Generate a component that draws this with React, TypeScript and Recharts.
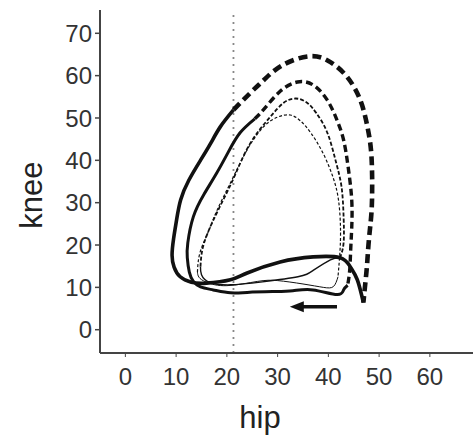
import { ScatterChart, Scatter, XAxis, YAxis, ReferenceLine } from 'recharts'

// hip / knee angles in degrees, as [hip, knee]
const loopASolid = [
  [46.9, 6.4], [45.7, 11.8], [44.3, 14.9], [42.3, 17], [37, 17.2], [30.5, 16],
  [24, 13.4], [20.7, 11.8], [16, 11], [13, 11.2], [10.8, 12.5], [9.6, 14.8],
  [9.2, 17.6], [9.5, 21.5], [10.1, 26], [10.9, 30.7], [12.5, 35.3], [14.8, 40],
  [16.8, 44], [18.7, 47.9], [21.3, 51.9],
]
const loopADashed = [
  [21.3, 51.9], [24.6, 55.9], [27.4, 59.1], [31, 62.5], [36.4, 64.6], [40.4, 63.2],
  [43.7, 59.7], [46.3, 54.2], [47.7, 47.9], [48.5, 40.8], [48.6, 30.7], [48.3, 25],
  [47.9, 20], [47.6, 15], [47.2, 10], [46.9, 6.4],
]
const loopBSolid = [
  [43.8, 10.5], [43, 9.4], [41.7, 8.3], [37, 9.4], [33, 9.2], [29, 9], [24, 8.8],
  [20.7, 8.7], [17.3, 9.4], [14.8, 10.1], [13.4, 11.4], [12.6, 13.6], [12.2, 17],
  [12.3, 20.5], [13.4, 26.7], [15.5, 32], [18, 37], [20.3, 42], [22.6, 46.5], [25.5, 49.8],
]
const loopBDashed = [
  [25.5, 49.8], [27.4, 52.2], [30.5, 56.3], [33.9, 58.5], [37, 57.8], [39.8, 54.2],
  [41.7, 49.5], [43, 44.8], [43.9, 38.4], [44.6, 30.7], [44.6, 24], [44.4, 18.9],
  [44.2, 14], [43.8, 10.5],
]
const loopCSolid = [
  [42.3, 17], [40.4, 16.5], [37, 14], [34, 12.5], [27, 11.3], [20.7, 10.6],
  [16.6, 11.2], [15, 13], [14.8, 14.9],
]
const loopCDashed = [
  [14.8, 14.9], [15.3, 19.6], [17, 25], [19.3, 30.7], [21.6, 36.5], [24.6, 44],
  [28.5, 50.2], [31.2, 53.6], [33.6, 54.6], [35.8, 53.6], [37.6, 51.2], [39.8, 46.5],
  [41.5, 39.6], [42.6, 33.7], [43, 26.7], [43, 20.5], [42.3, 17],
]
const loopDSolid = [
  [41.9, 12.5], [41, 10.2], [39, 10], [35, 10.8], [30, 11.6], [26, 11.4],
  [20, 10.4], [16, 11.2], [14.5, 12.4], [14.2, 13.6],
]
const loopDDashed = [
  [14.2, 13.6], [14.7, 18.2], [16.3, 23], [18.1, 28.3], [21, 35.4], [24, 42.5],
  [27.2, 47.9], [30, 50.2], [32.5, 50.7], [34.6, 49.2], [36.6, 46.4], [38.9, 41.8],
  [40.8, 36.4], [42, 30.6], [42.4, 23], [42.2, 17], [41.9, 12.5],
]
const arrowShaft = [[33.6, 5.4], [41.7, 5.4]]
const arrowTip = [[32.4, 5.4]]

const xTicks = [0, 10, 20, 30, 40, 50, 60]
const yTicks = [0, 10, 20, 30, 40, 50, 60, 70]
const toeOffGuide = 21.3

const pts = (arr: number[][]) => arr.map(([hip, knee]) => ({ hip, knee }))

const INK = '#111'
const FONT = 'Liberation Sans, Arial, sans-serif'
const noDot = () => <g />

const series = [
  { name: 'aSolid', data: loopASolid, width: 3.6, dash: undefined },
  { name: 'aDash', data: loopADashed, width: 4.6, dash: '9 5' },
  { name: 'bSolid', data: loopBSolid, width: 3, dash: undefined },
  { name: 'bDash', data: loopBDashed, width: 3.4, dash: '7 4' },
  { name: 'cSolid', data: loopCSolid, width: 1.4, dash: undefined },
  { name: 'cDash', data: loopCDashed, width: 1.8, dash: '4 2' },
  { name: 'dSolid', data: loopDSolid, width: 1, dash: undefined },
  { name: 'dDash', data: loopDDashed, width: 1.2, dash: '3 2' },
]

function ArrowHead(props: any) {
  const { cx, cy } = props
  return <polygon points={`${cx},${cy} ${cx + 14},${cy - 5.5} ${cx + 14},${cy + 5.5}`} fill={INK} />
}

export default function App() {
  const tickStyle = { fill: '#333', fontSize: 24, fontFamily: FONT }
  return (
    <div style={{ position: 'absolute', left: 0, top: 0, width: 475, height: 439, background: '#fff' }}>
      <ScatterChart width={475} height={439} margin={{ top: 10, right: 2, bottom: 0, left: 0 }}>
        <XAxis
          type="number"
          dataKey="hip"
          domain={[-5, 68.5]}
          ticks={xTicks}
          height={86}
          tickSize={4}
          tickMargin={11}
          tick={tickStyle}
          axisLine={{ stroke: '#444', strokeWidth: 2 }}
          tickLine={{ stroke: '#444' }}
          allowDataOverflow
        />
        <YAxis
          type="number"
          dataKey="knee"
          domain={[-5.5, 75.5]}
          ticks={yTicks}
          width={100}
          tickSize={5}
          tickMargin={3}
          tick={tickStyle}
          axisLine={{ stroke: '#444', strokeWidth: 2 }}
          tickLine={{ stroke: '#444', strokeWidth: 1.5 }}
          allowDataOverflow
        />
        <ReferenceLine x={toeOffGuide} stroke="#888" strokeWidth={1.8} strokeDasharray="2 5" />
        {series.map(s => (
          <Scatter
            key={s.name}
            data={pts(s.data)}
            line={{ stroke: INK, strokeWidth: s.width, strokeDasharray: s.dash }}
            lineType="joint"
            lineJointType="natural"
            shape={noDot}
            isAnimationActive={false}
          />
        ))}
        <Scatter
          data={pts(arrowShaft)}
          line={{ stroke: INK, strokeWidth: 3.5 }}
          lineType="joint"
          shape={noDot}
          isAnimationActive={false}
        />
        <Scatter data={pts(arrowTip)} shape={ArrowHead} isAnimationActive={false} />
      </ScatterChart>
      <svg width={475} height={439} style={{ position: 'absolute', left: 0, top: 0, pointerEvents: 'none' }}>
        <text
          x={42}
          y={195}
          transform="rotate(-90 42 195)"
          textAnchor="middle"
          fontSize={31}
          fontFamily={FONT}
          fill="#222"
        >
          knee
        </text>
        <text x={260} y={428} textAnchor="middle" fontSize={31} fontFamily={FONT} fill="#222">
          hip
        </text>
      </svg>
    </div>
  )
}
